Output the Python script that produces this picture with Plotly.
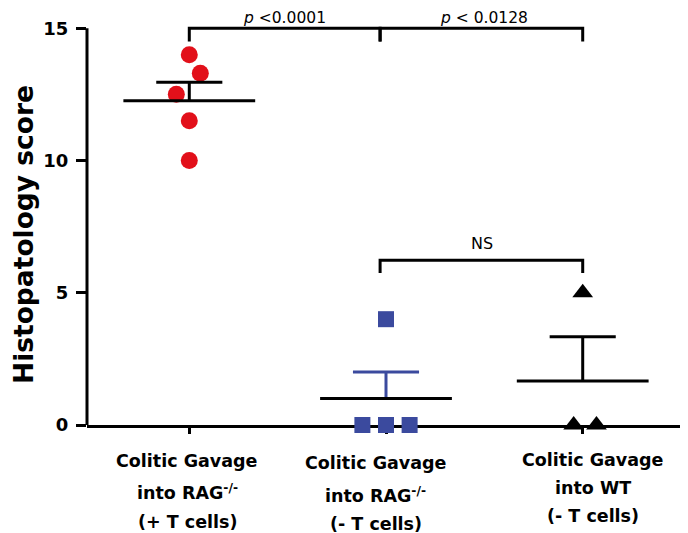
import numpy as np
import plotly.graph_objects as go

# ---------------- data ----------------
group_names = ["RAG+T", "RAG-T", "WT-T"]
label_lines = [
    ["Colitic Gavage", "into RAG<sup>-/-</sup>", "(+ T cells)"],
    ["Colitic Gavage", "into RAG<sup>-/-</sup>", "(- T cells)"],
    ["Colitic Gavage", "into WT", "(- T cells)"],
]
rag_plus_scores = [14.0, 13.3, 12.5, 11.5, 10.0]
rag_minus_scores = [4.0, 0.0, 0.0, 0.0]
wt_minus_scores = [5.0, 0.0, 0.0]
y_tick_vals = [0, 5, 10, 15]
p_texts = ["<i>p</i> <0.0001", "<i>p</i> < 0.0128", "NS"]

# ---------------- styling / positions ----------------
jitter = [
    [0.0, 0.056, -0.066, 0.0, 0.0],
    [0.0, -0.12, 0.0, 0.12],
    [0.0, -0.046, 0.07],
]
RED = "#e2101a"
BLUE = "#3b4a9e"
marker_styles = [
    dict(symbol="circle", color=RED, size=17),
    dict(symbol="square", color=BLUE, size=16),
    dict(symbol="triangle-up", color="black", size=18),
]
sem_colors = ["black", BLUE, "black"]
FONT = "DejaVu Sans"

all_scores = [rag_plus_scores, rag_minus_scores, wt_minus_scores]

fig = go.Figure()

for gi, vals in enumerate(all_scores):
    v = np.array(vals, dtype=float)
    xs = gi + np.array(jitter[gi])
    fig.add_trace(go.Scatter(
        x=xs, y=v, mode="markers", cliponaxis=False,
        marker=dict(symbol=marker_styles[gi]["symbol"], color=marker_styles[gi]["color"],
                    size=marker_styles[gi]["size"], line=dict(width=0)),
        showlegend=False, hoverinfo="skip"))
    mean = v.mean()
    sem = v.std(ddof=1) / np.sqrt(len(v))
    # SEM stem + cap
    fig.add_trace(go.Scatter(
        x=[gi, gi, None, gi - 0.168, gi + 0.168],
        y=[mean, mean + sem, None, mean + sem, mean + sem],
        mode="lines", line=dict(color=sem_colors[gi], width=3),
        showlegend=False, hoverinfo="skip"))
    # mean line
    fig.add_trace(go.Scatter(
        x=[gi - 0.335, gi + 0.335], y=[mean, mean],
        mode="lines", line=dict(color="black", width=3),
        showlegend=False, hoverinfo="skip"))

# significance brackets
brackets = [(0.0, 0.97, 15.0, 0.5), (0.97, 2.0, 15.0, 0.5), (0.97, 2.0, 6.23, 0.48)]
for (a, b, top, drop) in brackets:
    fig.add_trace(go.Scatter(
        x=[a, a, b, b], y=[top - drop, top, top, top - drop],
        mode="lines", line=dict(color="black", width=3),
        showlegend=False, hoverinfo="skip"))

annotations = []
# p-value texts (placed just above the top brackets)
p_y = (425 - 26.5) / 410.0
for px, txt in zip([0.4815, 1.496], p_texts[:2]):
    annotations.append(dict(x=px, xref="x", y=p_y, yref="paper", text=txt,
                            showarrow=False, xanchor="center", yanchor="bottom",
                            borderpad=0, borderwidth=0,
                            font=dict(family=FONT, size=15.5, color="black")))
annotations.append(dict(x=1.49, xref="x", y=6.88, yref="y", text=p_texts[2],
                        showarrow=False, xanchor="center", yanchor="middle",
                        font=dict(family=FONT, size=16, color="black")))

# category labels (three lines each)
label_x = [-0.011, 0.949, 2.052]
label_py = [[461, 492, 522], [463, 495, 524], [460, 488, 516]]
for gi in range(3):
    for li, txt in enumerate(label_lines[gi]):
        annotations.append(dict(
            x=label_x[gi], xref="x", y=(425 - label_py[gi][li]) / 410.0, yref="paper",
            text=txt, showarrow=False, xanchor="center", yanchor="middle",
            font=dict(family=FONT, size=17.5, color="black", weight="bold")))

# y axis title (kept fully inside the figure)
annotations.append(dict(
    x=-(79 - 15.5) / 598.0, xref="paper", y=7.2, yref="y", text="Histopatology score",
    textangle=-90, showarrow=False, xanchor="center", yanchor="middle",
    borderpad=0, borderwidth=0,
    font=dict(family=FONT, size=26.5, color="black", weight="bold")))

# the page body adds an 8px offset, so the figure is 8px smaller and margins shifted
fig.update_layout(
    width=680, height=525, autosize=False,
    margin=dict(l=79, r=3, t=7, b=108, pad=0),
    plot_bgcolor="white", paper_bgcolor="white",
    showlegend=False,
    annotations=annotations,
    shapes=[dict(type="line", xref="paper", x0=0, x1=0, yref="y", y0=0, y1=15,
                 line=dict(color="black", width=3))],
    xaxis=dict(range=[-0.52, 2.52], tickvals=[0, 1, 2], showticklabels=False,
               ticks="outside", ticklen=6, tickwidth=3, tickcolor="black",
               showline=True, linecolor="black", linewidth=3, showgrid=False,
               zeroline=False, layer="below traces", fixedrange=True),
    yaxis=dict(range=[0, 15.5], tickvals=y_tick_vals, ticks="outside", ticklen=10,
               tickwidth=3, tickcolor="black", showline=False, showgrid=False,
               zeroline=False, ticklabelstandoff=4,
               tickfont=dict(family=FONT, size=18, color="black", weight="bold"),
               fixedrange=True),
)

fig.write_html("out.html")
